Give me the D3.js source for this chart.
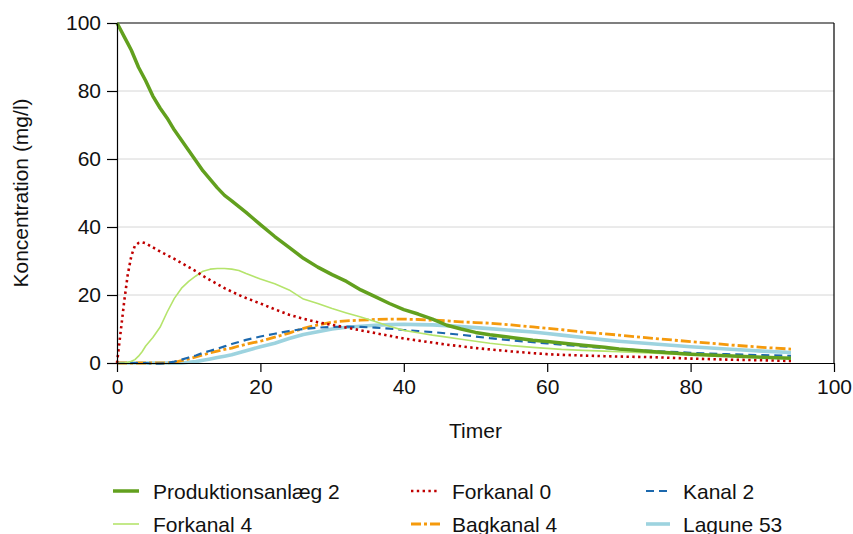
<!DOCTYPE html>
<html>
<head>
<meta charset="utf-8">
<script src="https://cdn.jsdelivr.net/npm/d3@7"></script>
<style>
  html, body { margin: 0; padding: 0; background: #fff; }
  svg text { font-family: "Liberation Sans", Arial, Helvetica, sans-serif; fill: #111; }
</style>
</head>
<body>
<svg id="chart" width="853" height="534"></svg>
<script>
// Measurement times (hours)
const hours = [0, 0.5, 1, 1.5, 2, 2.5, 3, 3.5, 4,
  5, 6, 7, 8, 9, 10, 11, 12, 13, 14, 15, 16, 17, 18, 19, 20,
  22, 24, 26, 28, 30, 32, 34, 36, 38, 40, 42, 44, 46, 48, 50,
  52, 55, 58, 60, 62, 65, 68, 70, 75, 80, 85, 90, 94];

// Concentration (mg/l) at each station
const produktionsanlaeg2 = [100, 98, 96, 94, 92, 89.5, 87, 85, 83,
  78.5, 75, 72, 68.5, 65.5, 62.5, 59.5, 56.5, 54, 51.5, 49.3, 47.7, 46, 44.3, 42.5, 40.7,
  37.2, 34, 30.8, 28.2, 26, 24, 21.5, 19.5, 17.5, 15.7, 14.4, 12.9, 11.1, 10, 9,
  8.3, 7.5, 6.7, 6.3, 5.9, 5.2, 4.6, 4.1, 3.3, 2.6, 2.1, 1.7, 1.4];

const forkanal0 = [0, 9, 18, 26, 31.5, 34.5, 35.3, 35.5, 35.2,
  34, 32.8, 31.7, 30.6, 29.4, 28.2, 27, 25.6, 24.4, 23.2, 22, 21, 20, 19.1, 18.3, 17.5,
  15.8, 14.2, 13, 12, 11.2, 10.4, 9.6, 8.8, 8, 7.2, 6.6, 6, 5.4, 4.9, 4.4,
  4, 3.4, 2.9, 2.6, 2.4, 2.2, 2.0, 1.9, 1.7, 1.3, 1.0, 0.8, 0.6];

const kanal2 = [0, 0, 0, 0, 0, 0, 0, 0, 0,
  -0.2, -0.2, 0, 0.4, 1, 1.6, 2.2, 3, 3.6, 4.2, 4.9, 5.6, 6.2, 6.8, 7.3, 7.8,
  8.6, 9.4, 10, 10.4, 10.6, 10.7, 10.6, 10.4, 10.1, 9.7, 9.4, 9.1, 8.7, 8.3, 7.8,
  7.3, 6.7, 6.1, 5.8, 5.4, 4.9, 4.4, 4.1, 3.5, 3, 2.6, 2.3, 2.1];

const forkanal4 = [0, 0, 0, 0.2, 0.5, 1, 2, 3.3, 5,
  7.5, 10.5, 15, 19, 22, 24, 25.6, 27, 27.6, 27.8, 27.8, 27.6, 27.2, 26.3, 25.5, 24.7,
  23.3, 21.5, 18.8, 17.5, 16, 14.7, 13.5, 12.2, 10.8, 9.6, 8.9, 8.2, 7.6, 7, 6.4,
  5.8, 5.1, 4.6, 4.3, 4.0, 3.7, 3.5, 3.3, 2.9, 2.4, 2.0, 1.6, 1.4];

const bagkanal4 = [0, 0, 0, 0, 0, 0, 0, 0, 0,
  0, 0, 0, 0.2, 0.7, 1.2, 1.8, 2.4, 3, 3.5, 4, 4.4, 5, 5.5, 6, 6.4,
  7.6, 8.8, 10.2, 11.2, 12, 12.4, 12.6, 12.8, 12.9, 12.9, 12.8, 12.6, 12.4, 12.1, 11.9,
  11.7, 11.2, 10.6, 10.2, 9.8, 9.1, 8.6, 8.2, 7.2, 6.3, 5.4, 4.6, 4.1];

const lagune53 = [0, 0, 0, 0, 0, 0, 0, 0, 0,
  0, 0, 0, 0, 0, 0.2, 0.4, 0.8, 1.2, 1.6, 2, 2.4, 3, 3.6, 4.2, 4.8,
  5.8, 7.2, 8.4, 9.2, 10, 10.5, 10.8, 11.1, 11.3, 11.4, 11.3, 11.2, 11, 10.7, 10.4,
  10.1, 9.6, 9.1, 8.7, 8.2, 7.5, 6.8, 6.4, 5.6, 4.8, 4.1, 3.5, 3.1];

const seriesNames = ["Produktionsanlæg 2", "Forkanal 0", "Kanal 2", "Forkanal 4", "Bagkanal 4", "Lagune 53"];
const xTicks = [0, 20, 40, 60, 80, 100];
const yTicks = [0, 20, 40, 60, 80, 100];

const styles = {
  "Produktionsanlæg 2": { color: "#62a01e", width: 3.5, dash: null },
  "Forkanal 0":         { color: "#c00000", width: 2.6, dash: "2.4,3.4" },
  "Kanal 2":            { color: "#1c68ad", width: 2.2, dash: "8,5" },
  "Forkanal 4":         { color: "#b5e46c", width: 1.6, dash: null },
  "Bagkanal 4":         { color: "#f59a0c", width: 2.8, dash: "10,3,3,3" },
  "Lagune 53":          { color: "#9dd3df", width: 3.6, dash: null }
};

const seriesValues = {
  "Produktionsanlæg 2": produktionsanlaeg2,
  "Forkanal 0": forkanal0,
  "Kanal 2": kanal2,
  "Forkanal 4": forkanal4,
  "Bagkanal 4": bagkanal4,
  "Lagune 53": lagune53
};

// drawing order (bottom to top)
const drawOrder = ["Lagune 53", "Bagkanal 4", "Kanal 2", "Forkanal 4", "Forkanal 0", "Produktionsanlæg 2"];

const svg = d3.select("#chart");
const plot = { left: 117, right: 834, top: 23, bottom: 363 };

const x = d3.scaleLinear().domain([0, 100]).range([plot.left, plot.right]);
const y = d3.scaleLinear().domain([0, 100]).range([plot.bottom, plot.top]);

// gridlines
svg.append("g")
  .selectAll("line")
  .data(yTicks.filter(d => d > 0 && d < 100))
  .join("line")
  .attr("x1", plot.left).attr("x2", plot.right)
  .attr("y1", d => y(d)).attr("y2", d => y(d))
  .attr("stroke", "#d6d6d6").attr("stroke-width", 1);

// frame: top and right edges
svg.append("line")
  .attr("x1", plot.left).attr("x2", plot.right)
  .attr("y1", plot.top).attr("y2", plot.top)
  .attr("stroke", "#000").attr("stroke-width", 1.2);
svg.append("line")
  .attr("x1", plot.right).attr("x2", plot.right)
  .attr("y1", plot.top).attr("y2", plot.bottom)
  .attr("stroke", "#000").attr("stroke-width", 1.2);

// series lines
const line = d3.line()
  .x((d, i) => x(hours[i]))
  .y(d => y(d));

svg.append("g")
  .selectAll("path")
  .data(drawOrder)
  .join("path")
  .attr("fill", "none")
  .attr("stroke", n => styles[n].color)
  .attr("stroke-width", n => styles[n].width)
  .attr("stroke-dasharray", n => styles[n].dash)
  .attr("stroke-linejoin", "round")
  .attr("d", n => line(seriesValues[n]));

// axes
const xAxis = d3.axisBottom(x).tickValues(xTicks).tickSize(9).tickPadding(7).tickSizeOuter(0);
const yAxis = d3.axisLeft(y).tickValues(yTicks).tickSize(10).tickPadding(6).tickSizeOuter(0);

const gx = svg.append("g").attr("transform", `translate(0,${plot.bottom})`).call(xAxis);
const gy = svg.append("g").attr("transform", `translate(${plot.left},0)`).call(yAxis);

[gx, gy].forEach(g => {
  g.select(".domain").attr("stroke", "#000").attr("stroke-width", 1.2);
  g.selectAll(".tick line").attr("stroke", "#000").attr("stroke-width", 1.2);
  g.selectAll(".tick text")
    .attr("font-family", "'Liberation Sans', Arial, Helvetica, sans-serif")
    .attr("font-size", 21)
    .attr("fill", "#111");
});

// axis titles
svg.append("text")
  .attr("x", (plot.left + plot.right) / 2)
  .attr("y", 438)
  .attr("text-anchor", "middle")
  .attr("font-size", 21)
  .text("Timer");

svg.append("text")
  .attr("transform", `translate(28,${(plot.top + plot.bottom) / 2}) rotate(-90)`)
  .attr("text-anchor", "middle")
  .attr("font-size", 21)
  .text("Koncentration (mg/l)");

// legend
const legendCols = [{ x1: 113, x2: 139, tx: 153 }, { x1: 411, x2: 440, tx: 452 }, { x1: 646, x2: 670, tx: 683 }];
const legendRows = [491, 524];

const legend = svg.append("g")
  .selectAll("g")
  .data(seriesNames)
  .join("g")
  .attr("transform", (d, i) => `translate(0,${legendRows[Math.floor(i / 3)]})`);

legend.append("line")
  .attr("x1", (d, i) => legendCols[i % 3].x1)
  .attr("x2", (d, i) => legendCols[i % 3].x2)
  .attr("y1", 0).attr("y2", 0)
  .attr("stroke", d => styles[d].color)
  .attr("stroke-width", d => styles[d].width)
  .attr("stroke-dasharray", d => styles[d].dash);

legend.append("text")
  .attr("x", (d, i) => legendCols[i % 3].tx)
  .attr("y", 7.5)
  .attr("font-size", 21)
  .text(d => d);
</script>
</body>
</html>
